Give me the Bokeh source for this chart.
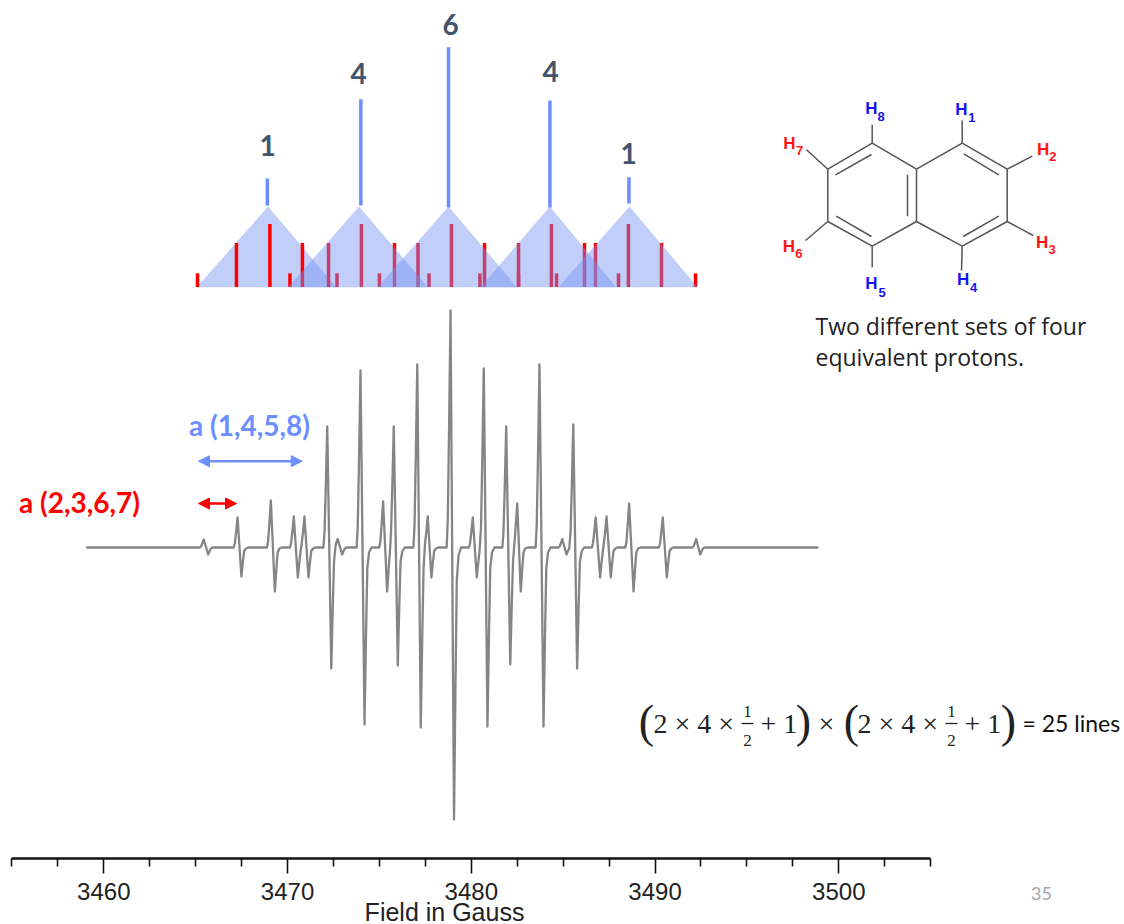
from bokeh.plotting import figure
from bokeh.embed import file_html
from bokeh.resources import INLINE
from bokeh.core.properties import value
from bokeh.models import Range1d, LinearAxis, FixedTicker, Arrow, NormalHead

# ---------- EPR spectrum (field in gauss, signal in arbitrary units) ----------
spectrum_field = [
    3459.04,
    3465.23, 3465.29, 3465.36, 3465.44, 3465.68, 3465.76, 3465.83, 3465.925, 3466.06,
    3467.07, 3467.13, 3467.20, 3467.28, 3467.49, 3467.57, 3467.64, 3467.735, 3467.87,
    3468.88, 3468.94, 3469.01, 3469.09, 3469.31, 3469.39, 3469.46, 3469.555, 3469.69,
    3470.13, 3470.19, 3470.26, 3470.34, 3470.56, 3470.64, 3470.71,
    3470.77, 3470.84, 3470.92, 3471.14, 3471.22, 3471.29, 3471.385, 3471.52,
    3471.95, 3472.01, 3472.08, 3472.16, 3472.38, 3472.46, 3472.53,
    3472.62, 3472.73, 3472.97, 3473.05, 3473.12, 3473.215, 3473.35,
    3473.76, 3473.82, 3473.89, 3473.97, 3474.19, 3474.27, 3474.34, 3474.435, 3474.57,
    3474.99, 3475.05, 3475.12, 3475.20, 3475.42, 3475.50, 3475.57,
    3475.63, 3475.70, 3475.78, 3476.00, 3476.08, 3476.15, 3476.245, 3476.38,
    3476.85, 3476.91, 3476.98, 3477.06, 3477.25, 3477.33, 3477.40,
    3477.48, 3477.55, 3477.63, 3477.83, 3477.91, 3477.98, 3478.075, 3478.21,
    3478.66, 3478.72, 3478.79, 3478.87, 3479.06, 3479.14, 3479.21, 3479.305, 3479.44,
    3479.87, 3479.93, 3480.00, 3480.08, 3480.30, 3480.38, 3480.45,
    3480.53, 3480.60, 3480.68, 3480.88, 3480.96, 3481.03, 3481.125, 3481.26,
    3481.69, 3481.75, 3481.82, 3481.90, 3482.12, 3482.20, 3482.27,
    3482.35, 3482.42, 3482.50, 3482.69, 3482.77, 3482.84, 3482.935, 3483.07,
    3483.50, 3483.56, 3483.63, 3483.71, 3483.93, 3484.01, 3484.08, 3484.175, 3484.31,
    3484.74, 3484.80, 3484.87, 3484.95, 3485.18, 3485.26, 3485.33,
    3485.40, 3485.47, 3485.55, 3485.76, 3485.84, 3485.91, 3486.005, 3486.14,
    3486.56, 3486.62, 3486.69, 3486.77, 3487.01, 3487.09, 3487.16,
    3487.21, 3487.28, 3487.36, 3487.59, 3487.67, 3487.74, 3487.835, 3487.97,
    3488.38, 3488.44, 3488.51, 3488.59, 3488.83, 3488.91, 3488.98, 3489.075, 3489.21,
    3490.21, 3490.27, 3490.34, 3490.42, 3490.64, 3490.72, 3490.79, 3490.885, 3491.02,
    3492.03, 3492.09, 3492.16, 3492.24, 3492.46, 3492.54, 3492.61, 3492.705, 3492.84,
    3498.89,
]
spectrum_signal = [
    0,
    0, 1, 4, 8, -7, -3.5, -1, 0, 0,
    0, 4, 15, 30, -29, -14, -3.5, -1, 0,
    0, 6, 23, 47, -44, -22, -5, -1, 0,
    0, 4, 15, 31, -30, -15, -3.5,
    4, 15, 31, -30, -15, -3.5, -1, 0,
    0, 15, 60, 121, -121, -60, -14,
    3, 8.5, -7, -3.5, -1, 0, 0,
    0, 21, 88, 177, -177, -88, -21, -5, 0,
    0, 6, 23, 46, -44, -22, -5,
    15, 60, 121, -118, -59, -14, -4, 0,
    0, 22, 91, 183, -180, -90, -22,
    4, 15, 31, -30, -15, -3.5, -1, 0,
    0, 28, 118, 237, -272, -136, -33, -8, 0,
    0, 4, 15, 30, -30, -15, -3.5,
    21, 90, 179, -179, -90, -21, -5, 0,
    0, 15, 60, 121, -117, -58, -14,
    5, 22, 44, -44, -22, -5, -1, 0,
    0, 22, 91, 183, -179, -90, -21, -5, 0,
    0, 1, 4, 8.5, -7, -3.5, -1,
    15, 61, 123, -121, -60, -14, -4, 0,
    0, 4, 15, 30, -30, -15, -3.5,
    4, 15, 31, -30, -15, -3.5, -1, 0,
    0, 5, 22, 44, -44, -22, -5, -1, 0,
    0, 4, 15, 30, -30, -15, -3.5, -1, 0,
    0, 1, 4, 8.5, -7, -3.5, -1, 0, 0,
    0,
]

# ---------- stick diagram ----------
blue_field = [3468.90, 3473.99, 3478.76, 3484.28, 3488.58]
blue_top = [1.05, 4.02, 5.96, 3.97, 1.10]
blue_base = [0.04, 0.04, -0.04, -0.04, 0.11]
blue_counts = ["1", "4", "6", "4", "1"]

red_field = [3465.10, 3467.22, 3469.04, 3470.81, 3472.69,
             3470.13, 3472.23, 3474.02, 3475.82, 3477.70,
             3475.00, 3477.10, 3478.92, 3480.72, 3482.57,
             3480.47, 3482.57, 3484.36, 3486.16, 3488.01,
             3484.64, 3486.76, 3488.55, 3490.35, 3492.20]
red_height = [1.3, 4.2, 6.0, 4.2, 1.3] * 5

tri_left = [3465.06, 3470.04, 3474.91, 3480.50, 3484.74]
tri_apex = [3468.94, 3473.89, 3478.76, 3484.28, 3488.61]
tri_right = [3472.66, 3477.64, 3482.48, 3487.88, 3492.31]

# ---------- axis ----------
major_ticks = [3460, 3470, 3480, 3490, 3500]
minor_ticks = [3455, 3457.5, 3462.5, 3465, 3467.5, 3472.5, 3475, 3477.5, 3482.5, 3485,
               3487.5, 3492.5, 3495, 3497.5, 3502.5, 3505]

# ---------- naphthalene sketch ----------
bond_x0 = [871.7, 827.3, 827.3, 871.7, 916, 916, 961.7, 1006.7, 1006.7, 961.7, 916,
           835, 835.7, 907, 963.3, 962.7,
           871.7, 961.7, 827.3, 1006.7, 827.3, 1006.7, 871.7, 961.7]
bond_y0 = [142.7, 168.7, 221, 245.7, 221, 168.7, 142.7, 168.7, 221, 245.7, 221,
           174.3, 215.7, 174.3, 153.3, 236,
           142.7, 142.7, 168.7, 168.7, 221, 221, 245.7, 245.7]
bond_x1 = [827.3, 827.3, 871.7, 916, 916, 871.7, 916, 961.7, 1006.7, 1006.7, 961.7,
           871, 871, 907, 998.3, 998.3,
           871.7, 961.7, 806, 1031.7, 805, 1032.7, 871.7, 961]
bond_y1 = [168.7, 221, 245.7, 221, 168.7, 142.7, 168.7, 142.7, 168.7, 221, 245.7,
           154, 236, 215.7, 174.3, 215.7,
           124.3, 120, 149.3, 155.7, 240, 235, 266.7, 270]

h_x = [961, 1042.7, 1041.7, 962.7, 871, 788.3, 789, 871]
h_y = [109, 149.3, 241.7, 279, 283.3, 246, 143.3, 108.3]
sub_x = [971.3, 1052.3, 1051.7, 973, 881.7, 798.3, 799, 880.7]
sub_y = [117, 156, 249, 287, 291.7, 252.7, 150, 116]
sub_text = ["1", "2", "3", "4", "5", "6", "7", "8"]
h_color = ["#1414F0", "#FF1414", "#FF1414", "#1414F0", "#1414F0", "#FF1414", "#FF1414", "#1414F0"]

# ---------- formula ----------
eq_text = ["2 × 4 ×", "+ 1", "×", "2 × 4 ×", "+ 1"]
eq_x = [653, 760, 818, 857, 964]
paren_text = ["(", ")", "(", ")"]
paren_x = [646, 803, 851, 1008]
frac_x0 = [741, 945]
frac_x1 = [753, 957]
frac_num_x = [747, 951]

# ---------- page geometry ----------
BLUE = "#6C8EFF"
RED = "#FF0000"
SPEC_SCALE = 18.375
WIDTH, HEIGHT = 1124, 924
AXIS_Y = 858

x0 = 3460 - 103.3 / SPEC_SCALE
x1 = 3460 + (WIDTH - 103.3) / SPEC_SCALE

p = figure(width=WIDTH, height=HEIGHT, output_backend="svg", toolbar_location=None,
           x_range=Range1d(x0, x1), y_range=Range1d(547 - HEIGHT, 547),
           x_axis_location=None, y_axis_location=None, min_border=0,
           background_fill_color="white", outline_line_color=None)
p.grid.visible = False
p.extra_x_ranges = {"page": Range1d(0, WIDTH)}
p.extra_y_ranges = {
    "page": Range1d(HEIGHT, 0),
    "blue": Range1d((206 - HEIGHT) / 26.7, 206 / 26.7),
    "red": Range1d((286.5 - HEIGHT) / 10.5, 286.5 / 10.5),
}

axis = LinearAxis(ticker=FixedTicker(ticks=major_ticks, minor_ticks=minor_ticks),
                  fixed_location=547 - AXIS_Y,
                  bounds=(3455, 3505), axis_line_width=2.5, axis_line_color="#111111",
                  major_tick_line_color="#111111", major_tick_line_width=1.6,
                  minor_tick_line_color="#111111", minor_tick_line_width=1.6,
                  major_tick_in=0, major_tick_out=15, minor_tick_in=0, minor_tick_out=8,
                  major_label_text_font="Liberation Sans", major_label_text_font_size="24px",
                  major_label_text_color="#222222", major_label_standoff=9)
p.add_layout(axis, "below")

# triangles: the first lies under the red sticks, the others over them
TRI_COLOR, TRI_ALPHA = "#7592F4", 0.45
TRI_BASE = -3.02
p.patch([tri_left[0], tri_apex[0], tri_right[0]], [TRI_BASE, 0, TRI_BASE], y_range_name="blue",
        fill_color=TRI_COLOR, fill_alpha=TRI_ALPHA, line_color=None)
p.segment(red_field, [0] * len(red_field), red_field, red_height, y_range_name="red",
          line_color=RED, line_width=3.5)
p.patches([[l, a, r] for l, a, r in zip(tri_left[1:], tri_apex[1:], tri_right[1:])],
          [[TRI_BASE, 0, TRI_BASE]] * 4, y_range_name="blue",
          fill_color=TRI_COLOR, fill_alpha=TRI_ALPHA, line_color=None)
p.segment(blue_field, blue_base, blue_field, blue_top, y_range_name="blue",
          line_color=BLUE, line_width=3.5)

# spectrum
p.line(spectrum_field, spectrum_signal, line_color="#858585", line_width=2.3, line_join="round")

# molecule
p.segment(bond_x0, bond_y0, bond_x1, bond_y1, x_range_name="page", y_range_name="page",
          line_color="#555555", line_width=1.5)


def put(text, x, y, font, size, color, style="normal", align="center"):
    p.text(x, y, text=text, x_range_name="page", y_range_name="page",
           text_font=value(font), text_font_size=value(size), text_color=color,
           text_font_style=style, text_align=align, text_baseline="middle")


put(["H"] * 8, h_x, h_y, "Liberation Sans", "17px", h_color, "bold")
put(sub_text, sub_x, sub_y, "Liberation Sans", "13px", h_color, "bold")
put(blue_counts, [267, 358, 450, 550, 628], [145, 73, 24, 71, 153], "Lato", "28px", "#44546A", "bold")
put(["a (1,4,5,8)"], [249], [424], "Lato", "28px", BLUE, "bold")
put(["a (2,3,6,7)"], [79], [501], "Lato", "28px", RED, "bold")
put(["Two different sets of four", "equivalent protons."], [815, 815], [325, 356],
    "Open Sans", "23px", "#222222", align="left")
put(eq_text, eq_x, [723] * 5, "Liberation Serif", "28px", "#222222", align="left")
put(paren_text, paren_x, [721] * 4, "Liberation Serif", "46px", "#222222")
put(["1"] * 2, frac_num_x, [711] * 2, "Liberation Serif", "17px", "#222222")
put(["2"] * 2, frac_num_x, [740] * 2, "Liberation Serif", "17px", "#222222")
p.segment(frac_x0, [723] * 2, frac_x1, [723] * 2, x_range_name="page", y_range_name="page",
          line_color="#222222", line_width=1.3)
put(["= 25 lines"], [1022], [722], "Lato", "23px", "#111111", align="left")
put(["Field in Gauss"], [444], [911], "Liberation Sans", "25px", "#222222")
put(["35"], [1041], [893], "Lato", "18px", "#A6A6A6")

# coupling arrows
for x_a, x_b, y_a, color in [(198, 301.7, 460.7, BLUE), (198, 236, 503, RED)]:
    p.add_layout(Arrow(x_start=x_a, x_end=x_b, y_start=y_a, y_end=y_a,
                       x_range_name="page", y_range_name="page",
                       line_color=color, line_width=2.6,
                       start=NormalHead(size=11, fill_color=color, line_color=color),
                       end=NormalHead(size=11, fill_color=color, line_color=color)))

open("out.html", "w").write(file_html(p, INLINE))
